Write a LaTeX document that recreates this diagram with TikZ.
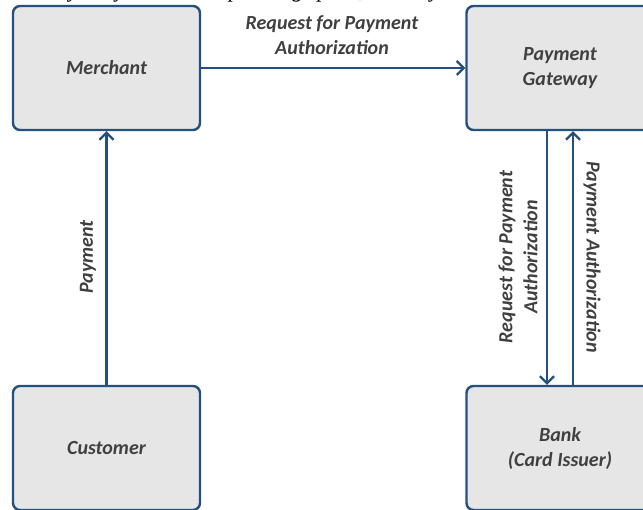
\documentclass[tikz,border=0pt]{standalone}
\usepackage{fontspec}
\setmainfont{Carlito}
\newfontfamily\serifit{Liberation Serif}
\usetikzlibrary{arrows.meta}
\definecolor{boxblue}{RGB}{37,80,125}
\definecolor{boxgray}{RGB}{230,230,230}
\definecolor{textgray}{RGB}{64,64,64}
\tikzset{
  boxnode/.style={rectangle, rounded corners=7pt, draw=boxblue, line width=2.4pt, fill=boxgray,
    minimum width=187pt, minimum height=124pt, text=textgray, align=center,
    font=\bfseries\itshape\fontsize{20}{25}\selectfont},
  arr/.style={draw=boxblue, line width=2.2pt, -{Straight Barb[length=7pt,width=14pt,line width=2.2pt]}},
  lbl/.style={text=textgray, align=center, font=\bfseries\itshape\fontsize{20}{25}\selectfont, inner sep=0pt}
}
\begin{document}
\begin{tikzpicture}[x=1pt,y=-1pt]
\useasboundingbox (0,0) rectangle (643,510);
\clip (0,0) rectangle (643,510);
\node[anchor=base east, font=\serifit\itshape\fontsize{22}{26}\selectfont, inner sep=0pt] (toptext) at (440,-2) {ay to systems and operating speed, security};
\node[boxnode] (merchant) at (106.5,68) {Merchant};
\node[boxnode] (gateway) at (560,68) {Payment\\Gateway};
\node[boxnode] (customer) at (106.5,448) {Customer};
\node[boxnode] (bank) at (560,448) {Bank\\(Card Issuer)};
\draw[arr] (merchant.east) -- (gateway.west);
\draw[arr] (customer.north) -- (merchant.south);
\draw[arr] ([xshift=-13pt]gateway.south) -- ([xshift=-13pt]bank.north);
\draw[arr] ([xshift=13pt]bank.north) -- ([xshift=13pt]gateway.south);
\node[lbl] (l1) at (332,35) {Request for Payment\\Authorization};
\node[lbl, rotate=90] (l2) at (88,257) {Payment};
\node[lbl, rotate=90] (l3) at (518,257) {Request for Payment\\Authorization};
\node[lbl, rotate=-90] (l4) at (592,257) {Payment Authorization};
\end{tikzpicture}
\end{document}
